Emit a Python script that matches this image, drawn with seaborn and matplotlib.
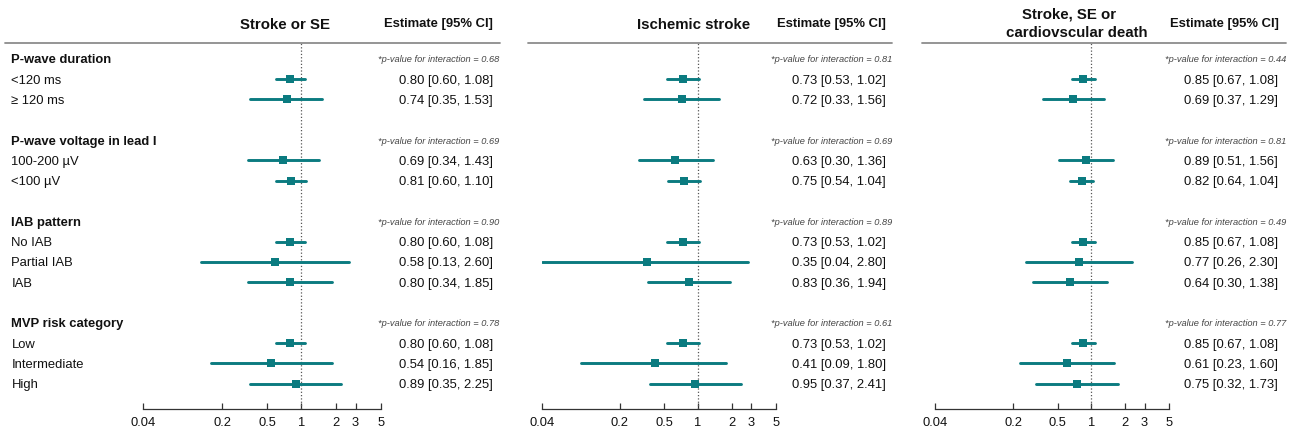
import numpy as np
import pandas as pd
import matplotlib
matplotlib.use("Agg")
import matplotlib.pyplot as plt
import seaborn as sns
from matplotlib import transforms
from matplotlib.lines import Line2D

# ---------------- data ----------------
groups = ["P-wave duration", "P-wave voltage in lead I", "IAB pattern", "MVP risk category"]
group_levels = [["<120 ms", "≥ 120 ms"],
                ["100-200 µV", "<100 µV"],
                ["No IAB", "Partial IAB", "IAB"],
                ["Low", "Intermediate", "High"]]

outcomes = ["Stroke or SE", "Ischemic stroke", "Stroke, SE or\ncardiovscular death"]

est_stroke_se = [0.80, 0.74, 0.69, 0.81, 0.80, 0.58, 0.80, 0.80, 0.54, 0.89]
lo_stroke_se = [0.60, 0.35, 0.34, 0.60, 0.60, 0.13, 0.34, 0.60, 0.16, 0.35]
hi_stroke_se = [1.08, 1.53, 1.43, 1.10, 1.08, 2.60, 1.85, 1.08, 1.85, 2.25]
p_stroke_se = [0.68, 0.69, 0.90, 0.78]

est_ischemic = [0.73, 0.72, 0.63, 0.75, 0.73, 0.35, 0.83, 0.73, 0.41, 0.95]
lo_ischemic = [0.53, 0.33, 0.30, 0.54, 0.53, 0.04, 0.36, 0.53, 0.09, 0.37]
hi_ischemic = [1.02, 1.56, 1.36, 1.04, 1.02, 2.80, 1.94, 1.02, 1.80, 2.41]
p_ischemic = [0.81, 0.69, 0.89, 0.61]

est_composite = [0.85, 0.69, 0.89, 0.82, 0.85, 0.77, 0.64, 0.85, 0.61, 0.75]
lo_composite = [0.67, 0.37, 0.51, 0.64, 0.67, 0.26, 0.30, 0.67, 0.23, 0.32]
hi_composite = [1.08, 1.29, 1.56, 1.04, 1.08, 2.30, 1.38, 1.08, 1.60, 1.73]
p_composite = [0.44, 0.81, 0.49, 0.77]

tick_values = [0.04, 0.2, 0.5, 1, 2, 3, 5]
tick_labels = ["0.04", "0.2", "0.5", "1", "2", "3", "5"]

# ---------------- layout ----------------
W, H = 1295, 432
TEAL = "#0b7b80"
sns.set_style("white")
plt.rcParams["font.family"] = ["Liberation Sans", "DejaVu Sans"]

# row indices
header_rows, level_rows, level_names = [], [], []
r = 0
for g, levels in zip(groups, group_levels):
    header_rows.append(r)
    r += 1
    for lv in levels:
        level_rows.append(r)
        level_names.append(lv)
        r += 1
    r += 1

row_px0, row_dy = 58.8, 20.3
top_px, axis_px = 43.0, 409.0
ylim_top = -(row_px0 - top_px) / row_dy
ylim_bot = (axis_px - row_px0) / row_dy

fig = plt.figure(figsize=(W / 100, H / 100), dpi=100)

panels = [
    dict(est=est_stroke_se, lo=lo_stroke_se, hi=hi_stroke_se, p=p_stroke_se,
         x0=142.7, x1=380.8, est_r=493.0, p_r=499.0, title_c=[285.0], eh_c=438.0,
         line=(5, 500)),
    dict(est=est_ischemic, lo=lo_ischemic, hi=hi_ischemic, p=p_ischemic,
         x0=541.7, x1=776.0, est_r=886.0, p_r=892.0, title_c=[694.0], eh_c=831.0,
         line=(528, 892)),
    dict(est=est_composite, lo=lo_composite, hi=hi_composite, p=p_composite,
         x0=935.0, x1=1169.3, est_r=1278.0, p_r=1286.0, title_c=[1069.5, 1077.0],
         eh_c=1224.0, line=(922, 1286)),
]

axes = []
for i, (pn, title) in enumerate(zip(panels, outcomes)):
    ax = fig.add_axes([pn["x0"] / W, 1 - axis_px / H, (pn["x1"] - pn["x0"]) / W,
                       (axis_px - top_px) / H])
    axes.append(ax)
    ax.set_xscale("log")
    df = pd.DataFrame({"row": level_rows, "est": pn["est"], "lo": pn["lo"], "hi": pn["hi"]})
    long = df.melt(id_vars=["row"], value_vars=["lo", "hi"], value_name="value")
    sns.lineplot(data=long, x="value", y="row", units="row", estimator=None,
                 color=TEAL, linewidth=2.1, ax=ax, legend=False)
    sns.scatterplot(data=df, x="est", y="row", marker="s", s=36, color=TEAL,
                    linewidth=0, ax=ax, zorder=3, legend=False)
    ax.axvline(1, color="#555555", linestyle=":", linewidth=0.9, zorder=1)
    ax.set_xlim(tick_values[0], tick_values[-1])
    ax.set_ylim(ylim_bot, ylim_top)
    ax.set_xticks(tick_values)
    ax.set_xticklabels(tick_labels)
    ax.xaxis.set_minor_locator(matplotlib.ticker.NullLocator())
    ax.set_yticks([])
    ax.set_xlabel("")
    ax.set_ylabel("")
    for s in ["top", "left", "right"]:
        ax.spines[s].set_visible(False)
    ax.spines["bottom"].set_color("#333333")
    ax.spines["bottom"].set_linewidth(0.9)
    ax.tick_params(axis="x", bottom=True, direction="in", length=4, width=0.9,
                   color="#333333", labelsize=9.3, pad=5.5, labelcolor="#111111")
    ax.patch.set_alpha(0)

    tr = transforms.blended_transform_factory(fig.transFigure, ax.transData)
    # estimates
    for rr, e, l, h in zip(level_rows, pn["est"], pn["lo"], pn["hi"]):
        ax.text(pn["est_r"] / W, rr, f"{e:.2f} [{l:.2f}, {h:.2f}]", transform=tr,
                ha="right", va="center_baseline", fontsize=9.4, color="#111111",
                clip_on=False)
    # p-values
    for rr, pv in zip(header_rows, pn["p"]):
        ax.text(pn["p_r"] / W, rr, f"*p-value for interaction = {pv:.2f}", transform=tr,
                ha="right", va="center_baseline", fontsize=6.7, style="italic",
                color="#444444", clip_on=False)
    # titles
    lines = title.split("\n")
    if len(lines) == 1:
        ys = [23.5]
    else:
        ys = [13.3, 31.7]
    for ln, yc, xc in zip(lines, ys, pn["title_c"]):
        fig.text(xc / W, 1 - yc / H, ln, ha="center", va="center_baseline",
                 fontsize=10.8, fontweight="bold", color="#111111")
    fig.text(pn["eh_c"] / W, 1 - 22.7 / H, "Estimate [95% CI]", ha="center",
             va="center_baseline", fontsize=9.4, fontweight="bold", color="#111111")
    fig.add_artist(Line2D([pn["line"][0] / W, pn["line"][1] / W], [1 - top_px / H] * 2,
                          transform=fig.transFigure, color="#8c8c8c", linewidth=1.3))

# row labels (left column)
ax1 = axes[0]
tr1 = transforms.blended_transform_factory(fig.transFigure, ax1.transData)
for rr, g in zip(header_rows, groups):
    ax1.text(11.5 / W, rr, g, transform=tr1, ha="left", va="center_baseline",
             fontsize=9.4, fontweight="bold", color="#111111", clip_on=False)
for rr, lv in zip(level_rows, level_names):
    ax1.text(11.5 / W, rr, lv, transform=tr1, ha="left", va="center_baseline",
             fontsize=9.4, color="#111111", clip_on=False)

fig.savefig("out.png", dpi=100)
